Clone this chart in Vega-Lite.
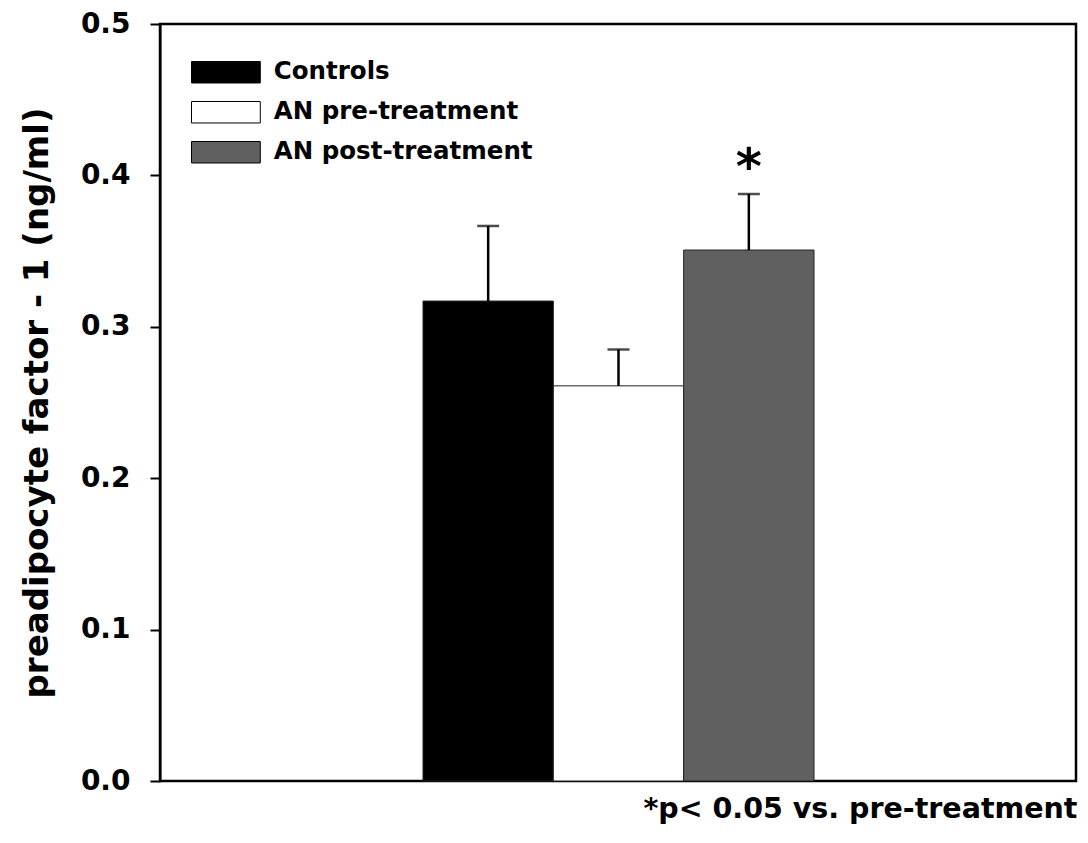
{
  "$schema": "https://vega.github.io/schema/vega-lite/v6.json",
  "autosize": "none",
  "width": 916,
  "height": 757,
  "padding": {"left": 160, "top": 24, "right": 12, "bottom": 62},
  "background": "white",
  "config": {
    "view": {"stroke": "black", "strokeWidth": 2.5},
    "font": "DejaVu Sans"
  },
  "data": {
    "values": [
      {"group": "Controls", "value": 0.317, "upper": 0.3666, "sig": ""},
      {"group": "AN pre-treatment", "value": 0.261, "upper": 0.285, "sig": ""},
      {"group": "AN post-treatment", "value": 0.3507, "upper": 0.3877, "sig": "*"}
    ]
  },
  "encoding": {
    "x": {
      "field": "group",
      "type": "nominal",
      "sort": null,
      "scale": {"paddingInner": 0, "paddingOuter": 0, "range": [263, 654]},
      "axis": {
        "title": "*p< 0.05 vs. pre-treatment",
        "titleX": 917,
        "titleAlign": "right",
        "titleFont": "DejaVu Sans",
        "titleFontSize": 28.5,
        "titleFontWeight": "bold",
        "titleColor": "black",
        "titlePadding": 13,
        "labels": false,
        "ticks": false,
        "domain": false
      }
    }
  },
  "layer": [
    {
      "mark": {"type": "bar", "stroke": "#222222", "strokeWidth": 1},
      "encoding": {
        "y": {
          "field": "value",
          "type": "quantitative",
          "scale": {"domain": [0, 0.5], "nice": false},
          "axis": {
            "title": "preadipocyte factor - 1 (ng/ml)",
            "titleFont": "DejaVu Sans",
            "titleFontSize": 34,
            "titleFontWeight": "bold",
            "titleColor": "black",
            "titlePadding": 26,
            "labelFont": "DejaVu Sans",
            "labelFontSize": 28,
            "labelFontWeight": "bold",
            "labelColor": "black",
            "labelPadding": 20,
            "tickSize": 10,
            "tickWidth": 2,
            "tickColor": "black",
            "domainColor": "black",
            "domainWidth": 2,
            "grid": false,
            "values": [0, 0.1, 0.2, 0.3, 0.4, 0.5],
            "format": ".1f"
          }
        },
        "fill": {
          "field": "group",
          "type": "nominal",
          "scale": {
            "domain": ["Controls", "AN pre-treatment", "AN post-treatment"],
            "range": ["#000000", "#ffffff", "#606060"]
          },
          "legend": {
            "orient": "none",
            "legendX": 53.65,
            "legendY": 36,
            "title": null,
            "symbolType": "M-3.2,-1H3.2V1H-3.2Z",
            "symbolSize": 462,
            "symbolStrokeColor": "black",
            "symbolStrokeWidth": 1,
            "symbolOpacity": 1,
            "labelFont": "DejaVu Sans",
            "labelFontWeight": "bold",
            "labelFontSize": 24.5,
            "labelColor": "black",
            "labelOffset": 35.6,
            "rowPadding": 14,
            "labelLimit": 400
          }
        }
      }
    },
    {
      "mark": {"type": "rule", "color": "black", "strokeWidth": 2.5},
      "encoding": {
        "y": {"field": "value", "type": "quantitative"},
        "y2": {"field": "upper"}
      }
    },
    {
      "mark": {"type": "tick", "color": "black", "size": 22, "thickness": 2.5, "orient": "horizontal"},
      "encoding": {
        "y": {"field": "upper", "type": "quantitative"}
      }
    },
    {
      "mark": {"type": "text", "font": "DejaVu Sans", "fontWeight": "bold", "fontSize": 50, "color": "black", "baseline": "alphabetic", "dy": -10},
      "encoding": {
        "y": {"field": "upper", "type": "quantitative"},
        "text": {"field": "sig"}
      }
    }
  ]
}
